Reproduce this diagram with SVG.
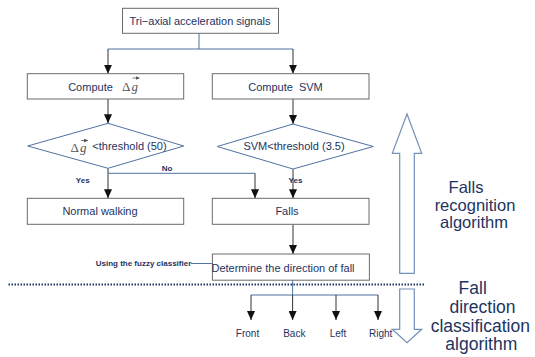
<svg xmlns="http://www.w3.org/2000/svg" width="535" height="357" viewBox="0 0 535 357">
<defs>
<marker id="ah" viewBox="0 0 9 8" refX="9" refY="4" markerWidth="9" markerHeight="8" orient="auto" markerUnits="userSpaceOnUse">
<path d="M0,0 L9,4 L0,8 Z" fill="#111"/>
</marker>
<marker id="vh" viewBox="0 0 4 4" refX="4" refY="2" markerWidth="4" markerHeight="4" orient="auto" markerUnits="userSpaceOnUse">
<path d="M0,0 L4,2 L0,4 Z" fill="#555"/>
</marker>
<style>
.box{fill:#fff;stroke:#6b6b6b;stroke-width:1}
.dia{fill:#fff;stroke:#4f72a3;stroke-width:1}
.t{font-family:"Liberation Sans",Arial,sans-serif;font-size:11px;fill:#1d3461;text-anchor:middle}
.s{font-family:"Liberation Sans",Arial,sans-serif;font-size:8px;font-weight:bold;fill:#1d3461;text-anchor:middle}
.o{font-family:"Liberation Sans",Arial,sans-serif;font-size:10px;fill:#1d3461;text-anchor:middle}
.big{font-family:"Liberation Sans",Arial,sans-serif;fill:#1d3461;text-anchor:middle}
.m{font-family:"Liberation Serif","Times New Roman",serif;fill:#555;}
.vec{fill:none;stroke:#555;stroke-width:0.8;marker-end:url(#vh)}
.h{fill:none;stroke:#4f72a3;stroke-width:1}
.va{fill:none;stroke:#333;stroke-width:1;marker-end:url(#ah)}
.ba{fill:#fff;stroke:#7290b8;stroke-width:1.2}
</style>
</defs>
<rect width="535" height="357" fill="#fff"/>

<g id="connectors">
<path class="h" d="M199,33.3 V49 M108,49 H293"/>
<path class="va" d="M108,49 V73.7"/>
<path class="va" d="M293,49 V73.7"/>
<path class="va" d="M108,99 V123.3"/>
<path class="va" d="M293,99 V124"/>
<path class="va" d="M108,168.3 V198.3"/>
<path class="h" d="M108,173.3 H255"/>
<path class="va" d="M255,173.3 V198.3"/>
<path class="va" d="M293,169 V198.3"/>
<path class="va" d="M293,224.3 V254"/>
<path class="h" d="M191,263.5 H212.4"/>
<path class="h" d="M292.6,280.2 V295 M251,295 H378"/>
<path class="va" d="M251,295 V320"/>
<path class="va" d="M292.6,295 V320"/>
<path class="va" d="M336,295 V320"/>
<path class="va" d="M378,295 V320"/>
<text class="s" x="167" y="170.5">No</text>
<text class="s" x="82.7" y="183">Yes</text>
<text class="s" x="295.5" y="183">Yes</text>
<text class="s" x="143.5" y="266">Using the fuzzy classifier</text>
</g>

<g id="n-signals">
<rect class="box" x="122.5" y="8.3" width="156" height="25"/>
<text class="t" x="200" y="25.3">Tri−axial acceleration signals</text>
</g>

<g id="n-compute-dg">
<rect class="box" x="27.3" y="73.7" width="156.4" height="25.3"/>
<text class="t" x="90.5" y="90.5">Compute</text>
<text class="m" x="122" y="90.5" font-size="13">Δ</text>
<text class="m" x="131.5" y="90.5" font-size="13" font-style="italic">g</text>
<path class="vec" d="M132.5,78 H139.5"/>
</g>

<g id="n-compute-svm">
<rect class="box" x="212.3" y="73.7" width="156.7" height="25.3"/>
<text class="t" x="285.5" y="91" xml:space="preserve">Compute  SVM</text>
</g>

<g id="n-dec1">
<polygon class="dia" points="108,123.3 183.7,146 108,168.3 27.7,146"/>
<text class="m" x="70.5" y="151.5" font-size="13">Δ</text>
<text class="m" x="80" y="151.5" font-size="13" font-style="italic">g</text>
<path class="vec" d="M81,140.5 H88"/>
<text class="t" x="129.5" y="150">&lt;threshold (50)</text>
</g>

<g id="n-dec2">
<polygon class="dia" points="293,124 373.3,146.5 293,169 217.3,146.5"/>
<text class="t" x="294" y="150">SVM&lt;threshold (3.5)</text>
</g>

<g id="n-normal">
<rect class="box" x="27.3" y="198.3" width="156.4" height="26"/>
<text class="t" x="100" y="214.5">Normal walking</text>
</g>

<g id="n-falls">
<rect class="box" x="212.3" y="198.3" width="156.7" height="26"/>
<text class="t" x="287" y="214.5">Falls</text>
</g>

<g id="n-direction">
<rect class="box" x="212.4" y="254" width="157" height="26.2"/>
<text class="t" x="283" y="271.5">Determine the direction of fall</text>
</g>

<g id="n-outputs">
<text class="o" x="247.5" y="336.5">Front</text>
<text class="o" x="294.3" y="336.5">Back</text>
<text class="o" x="338" y="336.5">Left</text>
<text class="o" x="380.7" y="336.5">Right</text>
</g>

<line x1="8.5" y1="284.5" x2="424" y2="284.5" stroke="#1d3461" stroke-width="2" stroke-dasharray="1.5,1.5"/>

<g id="arrow-up">
<polygon class="ba" points="407,114 421.7,153.3 414.3,153.3 414.3,273.3 399.7,273.3 399.7,153.3 392.3,153.3"/>
</g>
<g id="arrow-down">
<polygon class="ba" points="399.7,289 414.3,289 414.3,329.3 421.7,329.3 407,342.7 392.3,329.3 399.7,329.3"/>
</g>

<g id="label-recognition">
<text class="big" font-size="16.5" x="466" y="192.7">Falls</text>
<text class="big" font-size="16.5" x="475" y="211">recognition</text>
<text class="big" font-size="16.5" x="474" y="227.7">algorithm</text>
</g>
<g id="label-classification">
<text class="big" font-size="17.5" x="472.7" y="294">Fall</text>
<text class="big" font-size="17.5" x="482.5" y="313">direction</text>
<text class="big" font-size="17.5" x="480.3" y="331.5">classification</text>
<text class="big" font-size="17.5" x="481.3" y="350">algorithm</text>
</g>
</svg>
